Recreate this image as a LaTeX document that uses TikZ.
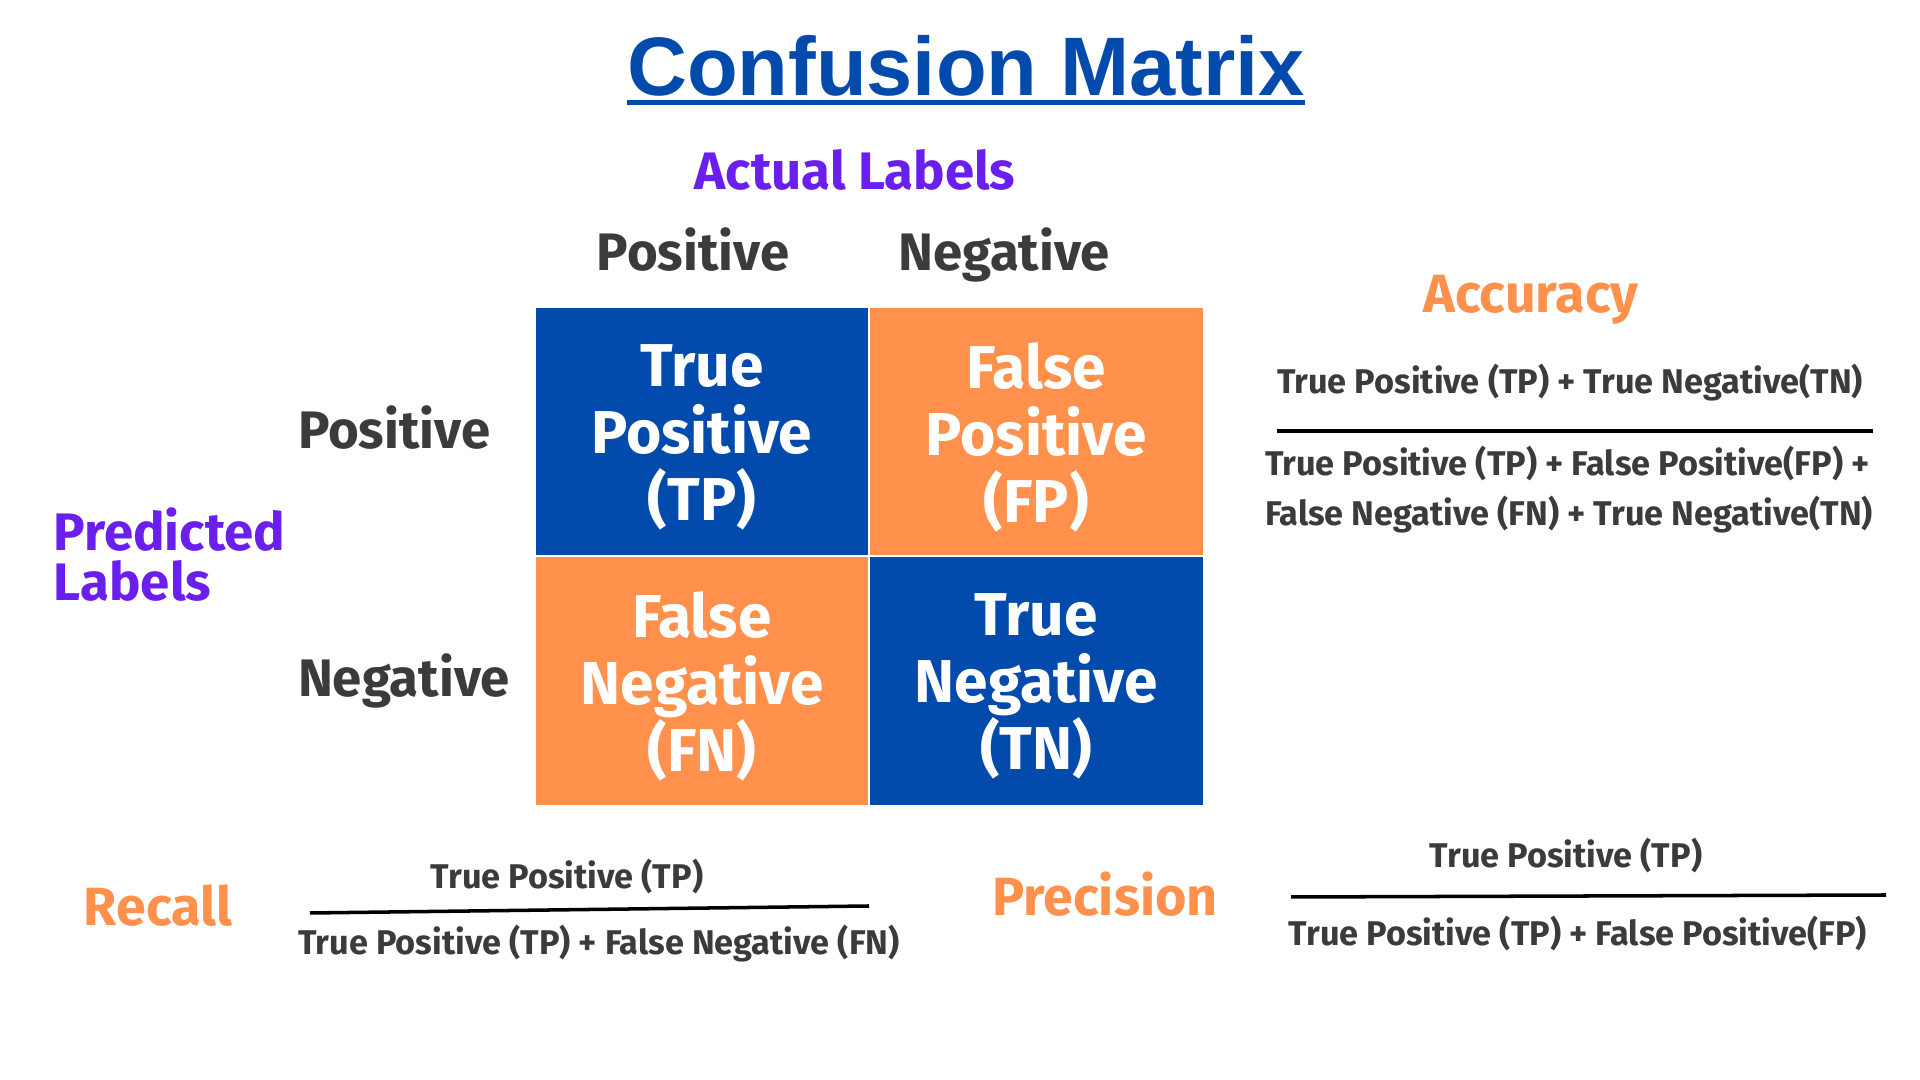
\documentclass[tikz,border=0pt]{standalone}
\usepackage{fontspec}
\setmainfont{Fira Sans}
\newfontfamily\titlefont{Liberation Sans}
\usepackage{xcolor}
\usetikzlibrary{positioning}
\definecolor{cmblue}{HTML}{034AAD}
\definecolor{cmorange}{HTML}{FF914D}
\definecolor{cmpurple}{HTML}{6A1FEF}
\definecolor{cmgrey}{HTML}{3B3B3B}

\begin{document}
\begin{tikzpicture}[x=0.01cm, y=-0.01cm, every node/.style={font=\bfseries,align=center,inner sep=0pt,outer sep=0pt},
  cell/.style={draw=white,line width=0.4pt,minimum width=3.34cm,minimum height=2.49cm},
  celltext/.style={yshift=-0.057cm,text=white,font=\bfseries\fontsize{17.2}{19}\selectfont},
  head/.style={text=cmgrey,font=\bfseries\fontsize{15}{18}\selectfont},
  axis/.style={text=cmpurple,font=\bfseries\fontsize{15}{14}\selectfont},
  metric/.style={text=cmorange,font=\bfseries\fontsize{15.3}{18}\selectfont},
  term/.style={text=cmgrey,font=\bfseries\fontsize{9.75}{14.2}\selectfont},
  bar/.style={line width=1pt,black}]
\path[use as bounding box] (0,0) rectangle (1920,1080);

\node (title) [text=cmblue,font=\titlefont\bfseries\fontsize{23.6}{28}\selectfont] at (966,66) {Confusion Matrix};
\draw[cmblue,line width=1.4pt] ([yshift=-0.06cm]title.south west) -- ([yshift=-0.06cm]title.south east);

\node (tp) [cell,fill=cmblue,label={[celltext]center:{True\\Positive\\(TP)}}] at (702,431.5) {};
\node (fp) [cell,fill=cmorange,right=0pt of tp,label={[celltext]center:{False\\Positive\\(FP)}}] {};
\node (fn) [cell,fill=cmorange,below=0pt of tp,label={[celltext]center:{False\\Negative\\(FN)}}] {};
\node (tn) [cell,fill=cmblue,right=0pt of fn,label={[celltext]center:{True\\Negative\\(TN)}}] {};

\node (actual) [axis] at (855,170) {Actual Labels};
\node (colpos) [head,anchor=base] at (693,271) {Positive};
\node (colneg) [head,anchor=base] at (1004,271) {Negative};
\node (rowpos) [head,anchor=base west] at (298,449) {Positive};
\node (rowneg) [head,anchor=base west] at (298,697) {Negative};
\node (predicted) [axis,align=left,anchor=west] at (54,554.5) {Predicted\\Labels};

\node (accuracy) [metric] at (1531,300) {Accuracy};
\node (accnum) [term] at (1570,383) {True Positive (TP) + True Negative(TN)};
\draw[bar] (1277,431) -- (1873,431);
\node (accden) [term,align=left,anchor=west] at (1265,490) {True Positive (TP) + False Positive(FP) +\\False Negative (FN) + True Negative(TN)};

\node (recall) [metric] at (158,906) {Recall};
\node (recnum) [term] at (567,877) {True Positive (TP)};
\draw[bar] (310,913) -- (869,906);
\node (recden) [term] at (599,944) {True Positive (TP) + False Negative (FN)};

\node (precision) [metric] at (1105,894) {Precision};
\node (prenum) [term] at (1566,856) {True Positive (TP)};
\draw[bar] (1291,897) -- (1886,895);
\node (preden) [term] at (1578,934) {True Positive (TP) + False Positive(FP)};
\end{tikzpicture}
\end{document}
